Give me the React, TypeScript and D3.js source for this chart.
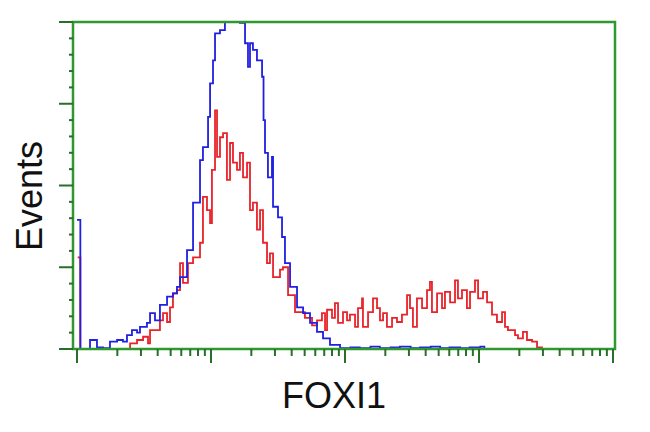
import React from "react";
import * as d3 from "d3";

// log10 of fluorescence intensity (x) and event counts (y)
const blueLogX = [0.0, 0.025, 0.075, 0.097, 0.149, 0.194, 0.246, 0.299, 0.343, 0.373, 0.41, 0.448, 0.47, 0.522, 0.545, 0.582, 0.619, 0.672, 0.716, 0.746, 0.769, 0.821, 0.866, 0.918, 0.94, 0.978, 0.993, 1.015, 1.03, 1.067, 1.104, 1.142, 1.179, 1.216, 1.254, 1.276, 1.291, 1.313, 1.343, 1.381, 1.392, 1.403, 1.425, 1.455, 1.463, 1.5, 1.53, 1.552, 1.59, 1.642, 1.687, 1.739, 1.791, 1.836, 1.888, 1.963, 2.04, 2.11, 2.19, 2.26, 2.34, 2.41, 2.49, 2.56, 2.64, 2.71, 2.78, 2.86, 2.93, 3.01, 3.04];
const blueCounts = [158, 0, 0, 11, 2, 1, 9, 11, 9, 17, 23, 20, 27, 32, 44, 35, 54, 64, 68, 76, 88, 121, 179, 231, 247, 284, 325, 353, 386, 390, 420, 430, 425, 399, 374, 345, 374, 366, 353, 333, 280, 240, 210, 235, 174, 161, 137, 105, 76, 51, 44, 32, 21, 13, 5, 1, 2, 1, 3, 1, 2, 3, 1, 2, 3, 1, 2, 1, 2, 3, 0];

const redLogX = [0.005, 0.025, 0.299, 0.373, 0.396, 0.448, 0.493, 0.53, 0.545, 0.567, 0.619, 0.642, 0.672, 0.694, 0.716, 0.746, 0.769, 0.791, 0.828, 0.866, 0.918, 0.94, 0.97, 0.993, 1.007, 1.03, 1.045, 1.067, 1.09, 1.119, 1.142, 1.164, 1.194, 1.216, 1.239, 1.269, 1.291, 1.313, 1.343, 1.366, 1.388, 1.418, 1.44, 1.463, 1.515, 1.537, 1.575, 1.627, 1.701, 1.754, 1.791, 1.828, 1.851, 1.866, 1.903, 1.925, 1.948, 1.985, 2.015, 2.037, 2.075, 2.097, 2.127, 2.134, 2.172, 2.209, 2.239, 2.261, 2.284, 2.313, 2.351, 2.388, 2.425, 2.463, 2.485, 2.507, 2.537, 2.575, 2.612, 2.634, 2.649, 2.687, 2.724, 2.746, 2.784, 2.821, 2.843, 2.873, 2.91, 2.933, 2.97, 2.993, 3.03, 3.06, 3.097, 3.134, 3.172, 3.194, 3.216, 3.269, 3.291, 3.328, 3.358, 3.396, 3.433, 3.47];
const redCounts = [112, 0, 0, 0, 7, 11, 15, 7, 23, 23, 35, 44, 33, 51, 68, 72, 105, 81, 105, 112, 130, 186, 170, 154, 219, 292, 235, 259, 264, 207, 252, 228, 219, 240, 210, 228, 170, 179, 146, 170, 130, 105, 117, 88, 97, 100, 66, 45, 38, 29, 35, 44, 23, 48, 38, 56, 32, 45, 35, 42, 27, 50, 62, 27, 45, 62, 50, 35, 44, 27, 38, 33, 42, 66, 50, 27, 62, 50, 72, 82, 45, 68, 50, 70, 57, 84, 62, 72, 50, 70, 84, 62, 70, 57, 42, 33, 45, 27, 23, 17, 13, 21, 11, 9, 2, 0];

const xAxisTitle = "FOXI1";
const yAxisTitle = "Events";

const W = 650;
const H = 432;
const plot = { left: 77, right: 613, top: 22, bottom: 349 };
const boxLeft = 73;
const boxRight = 615;
const green = "#2f982f";

export default function App() {
  const x = d3.scaleLog().domain([1, 10000]).range([plot.left, plot.right]);
  const y = d3.scaleLinear().domain([0, 400]).range([plot.bottom, plot.top]);

  const line = d3
    .line<[number, number]>()
    .x((d) => x(Math.pow(10, d[0])))
    .y((d) => y(d[1]))
    .curve(d3.curveStepAfter);

  const blue = blueLogX.map((v, i) => [v, blueCounts[i]] as [number, number]);
  const red = redLogX.map((v, i) => [v, redCounts[i]] as [number, number]);

  const xTicks = x.ticks();
  const yTicks = y.ticks(20);

  return (
    <svg
      width={W}
      height={H}
      style={{ position: "absolute", left: 0, top: 0, background: "#fff" }}
      fontFamily="'Liberation Sans', Arial, sans-serif"
    >
      <defs>
        <clipPath id="plotclip">
          <rect x={boxLeft} y={plot.top} width={boxRight - boxLeft} height={plot.bottom - plot.top + 1} />
        </clipPath>
      </defs>
      <g clipPath="url(#plotclip)" fill="none" strokeWidth={1.8} strokeLinejoin="miter">
        <path d={line(red) || ""} stroke="#e8232a" />
        <path d={line(blue) || ""} stroke="#2020e0" />
      </g>
      {/* box */}
      <rect
        x={boxLeft}
        y={plot.top}
        width={boxRight - boxLeft}
        height={plot.bottom - plot.top}
        fill="none"
        stroke={green}
        strokeWidth={2.5}
      />
      {/* x ticks */}
      {xTicks.map((t, i) => {
        const major = Math.abs(Math.log10(t) - Math.round(Math.log10(t))) < 1e-9;
        return (
          <line
            key={"x" + i}
            x1={x(t)}
            x2={x(t)}
            y1={plot.bottom}
            y2={plot.bottom + (major ? 14 : 7)}
            stroke="#2a6e2a"
            strokeWidth={2}
          />
        );
      })}
      {/* y ticks */}
      {yTicks.map((t, i) => {
        const major = t % 100 === 0;
        return (
          <line
            key={"y" + i}
            x1={boxLeft}
            x2={boxLeft - (major ? 14 : 4)}
            y1={y(t)}
            y2={y(t)}
            stroke="#2a6e2a"
            strokeWidth={2}
          />
        );
      })}
      <text x={334} y={408} textAnchor="middle" fontSize={36} fill="#111">
        {xAxisTitle}
      </text>
      <text
        transform={`translate(42,196) rotate(-90)`}
        textAnchor="middle"
        fontSize={36}
        fill="#111"
      >
        {yAxisTitle}
      </text>
    </svg>
  );
}
